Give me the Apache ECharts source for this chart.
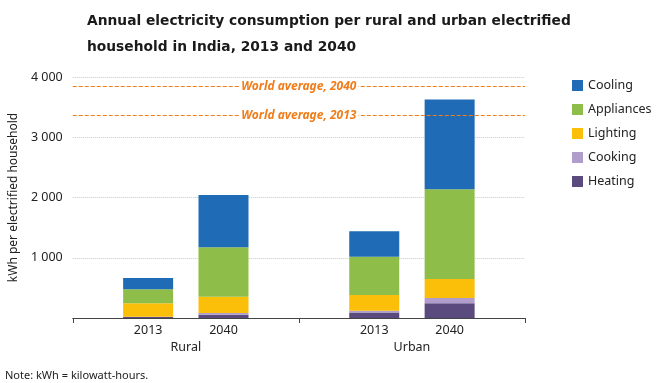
<!DOCTYPE html>
<html><head><meta charset="utf-8">
<script src="https://cdn.jsdelivr.net/npm/echarts@6/dist/echarts.min.js"></script>
<style>html,body{margin:0;padding:0;background:#fff}#c{width:659px;height:383px}</style>
</head><body><div id="c"></div>
<script>
var categories = ['', '2013', '2040', '', '2013', '2040', ''];
var groups = ['Rural', 'Urban'];
var heating    = [null, 15, 55, null, 93, 243, null];
var cooking    = [null, 5, 28, null, 28, 89, null];
var lighting   = [null, 223, 271, null, 261, 316, null];
var appliances = [null, 233, 819, null, 636, 1489, null];
var cooling    = [null, 189, 870, null, 421, 1490, null];
var worldAvg2013 = 3360;
var worldAvg2040 = 3847;
var yTicks = [0, 1000, 2000, 3000, 4000];

var chart = echarts.init(document.getElementById('c'));
var font = 'Noto Sans';
function mk(name, data, color, extra) {
  var s = {name: name, type: 'bar', stack: 'a', data: data, barWidth: 50,
    itemStyle: {color: color}, xAxisIndex: 0, yAxisIndex: 0};
  if (extra) for (var k in extra) s[k] = extra[k];
  return s;
}
var mlLabel = function(txt){ return {show: true, formatter: txt, position: 'middle', color: '#f07d1a',
  fontStyle: 'italic', fontWeight: 'bold', fontSize: 12, fontFamily: font,
  backgroundColor: '#fff', padding: [0, 2], distance: -6}; };
chart.setOption({
  animation: false,
  title: {text: 'Annual electricity consumption per rural and urban electrified\nhousehold in India, 2013 and 2040',
    left: 82, top: 3, textStyle: {fontFamily: 'DejaVu Sans', fontWeight: 'bold', fontSize: 13.8, color: '#1a1a1a', lineHeight: 26}},
  legend: {orient: 'vertical', left: 567, top: 74, itemWidth: 11, itemHeight: 11, itemGap: 11,
    icon: 'rect', textStyle: {fontFamily: font, fontSize: 12.5, color: '#222'},
    data: ['Cooling', 'Appliances', 'Lighting', 'Cooking', 'Heating']},
  grid: {left: 72, right: 134, top: 77, bottom: 65},
  xAxis: [{type: 'category', data: categories, boundaryGap: false,
    axisLine: {lineStyle: {color: '#444'}},
    axisTick: {show: true, length: 5, interval: function(i){ return i === 0 || i === 3 || i === 6; }, lineStyle: {color: '#444'}},
    axisLabel: {interval: 0, color: '#222', fontFamily: font, fontSize: 12.5, margin: 6}},
    {type: 'category', data: groups, position: 'bottom', boundaryGap: true, gridIndex: 0,
    axisLine: {show: false}, axisTick: {show: false},
    axisLabel: {color: '#222', fontFamily: font, fontSize: 12.5, margin: 23}}],
  yAxis: {type: 'value', min: 0, max: 4000, interval: 1000,
    axisLine: {show: false}, axisTick: {show: false},
    splitLine: {lineStyle: {color: '#c8c8c8', type: 'dotted'}},
    axisLabel: {color: '#222', fontFamily: font, fontSize: 12.5, margin: 10,
      formatter: function(v){ return v === 0 ? '' : (v/1000) + ' 000'; }},
    name: 'kWh per electrified household', nameLocation: 'middle', nameGap: 46,
    nameTextStyle: {fontFamily: font, fontSize: 12, color: '#222'}},
  series: [
    mk('Heating', heating, '#5b4a7d', {markLine: {silent: true, symbol: 'none',
      lineStyle: {color: '#f07d1a', type: [4, 2], width: 1.2},
      data: [{yAxis: worldAvg2040, label: mlLabel('World average, 2040')},
             {yAxis: worldAvg2013, label: mlLabel('World average, 2013')}]}}),
    mk('Cooking', cooking, '#b19dcb'),
    mk('Lighting', lighting, '#fbbf0a'),
    mk('Appliances', appliances, '#8fbd4a'),
    mk('Cooling', cooling, '#1f6bb5')
  ],
  graphic: [{type: 'text', left: 5, top: 370, style: {text: 'Note: kWh = kilowatt-hours.', fontFamily: font, fontSize: 11, fill: '#222'}}]
});
</script></body></html>
